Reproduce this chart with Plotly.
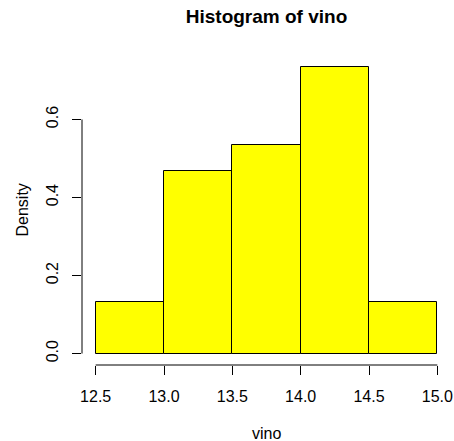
import plotly.graph_objects as go

# Histogram of vino: bin edges and counts per bin
breaks = [12.5, 13.0, 13.5, 14.0, 14.5, 15.0]
counts = [2, 7, 8, 11, 2]
x_ticks = [12.5, 13.0, 13.5, 14.0, 14.5, 15.0]
x_tick_labels = ["12.5", "13.0", "13.5", "14.0", "14.5", "15.0"]
y_ticks = [0.0, 0.2, 0.4, 0.6]
y_tick_labels = ["0.0", "0.2", "0.4", "0.6"]

n = sum(counts)
mids = [(a + b) / 2 for a, b in zip(breaks[:-1], breaks[1:])]
widths = [b - a for a, b in zip(breaks[:-1], breaks[1:])]
density = [c / (n * w) for c, w in zip(counts, widths)]

FONT = "Liberation Sans, Arial, Helvetica, sans-serif"

# base-R style 4% padding around the data range
x_lo, x_hi = breaks[0], breaks[-1]
x_pad = 0.04 * (x_hi - x_lo)
y_hi = max(density)
y_pad = 0.04 * y_hi

fig = go.Figure(
    go.Bar(
        x=mids,
        y=density,
        width=widths,
        marker=dict(color="#FFFF00", line=dict(color="black", width=1)),
        hoverinfo="x+y",
    )
)

axis_common = dict(
    showgrid=False,
    zeroline=False,
    showline=False,
    ticks="outside",
    ticklen=9,
    tickwidth=1,
    tickcolor="black",
    tickfont=dict(family=FONT, size=16, color="black"),
    automargin=False,
)

fig.update_xaxes(
    range=[x_lo - x_pad, x_hi + x_pad],
    tickvals=x_ticks,
    ticktext=x_tick_labels,
    ticklabelstandoff=8,
    **axis_common,
)
fig.update_yaxes(
    range=[-y_pad, y_hi + y_pad],
    tickvals=y_ticks,
    ticktext=y_tick_labels,
    tickangle=-90,
    ticklabelstandoff=8,
    **axis_common,
)

# axis lines spanning only the tick range
fig.add_shape(type="line", xref="x", yref="paper",
              x0=x_ticks[0], x1=x_ticks[-1], y0=0, y1=0,
              line=dict(color="black", width=1))
fig.add_shape(type="line", xref="paper", yref="y",
              x0=0, x1=0, y0=y_ticks[0], y1=y_ticks[-1],
              line=dict(color="black", width=1))

fig.add_annotation(text="vino", xref="paper", yref="paper", x=0.5, y=0,
                   xanchor="center", yanchor="middle", yshift=-68,
                   showarrow=False, font=dict(family=FONT, size=16, color="black"))
fig.add_annotation(text="Density", xref="paper", yref="paper", x=0, y=0.5,
                   xanchor="center", yanchor="middle", xshift=-60, textangle=-90,
                   showarrow=False, font=dict(family=FONT, size=16, color="black"))

fig.update_layout(
    width=454,
    height=441,
    margin=dict(l=82, r=3, t=56, b=76),
    paper_bgcolor="white",
    plot_bgcolor="white",
    showlegend=False,
    bargap=0,
    title=dict(
        text="<b>Histogram of vino</b>",
        x=0.5, xref="paper", xanchor="center",
        y=1 - 16 / 441, yref="container", yanchor="middle",
        font=dict(family=FONT, size=19, color="black"),
    ),
)

fig.write_html("out.html")
